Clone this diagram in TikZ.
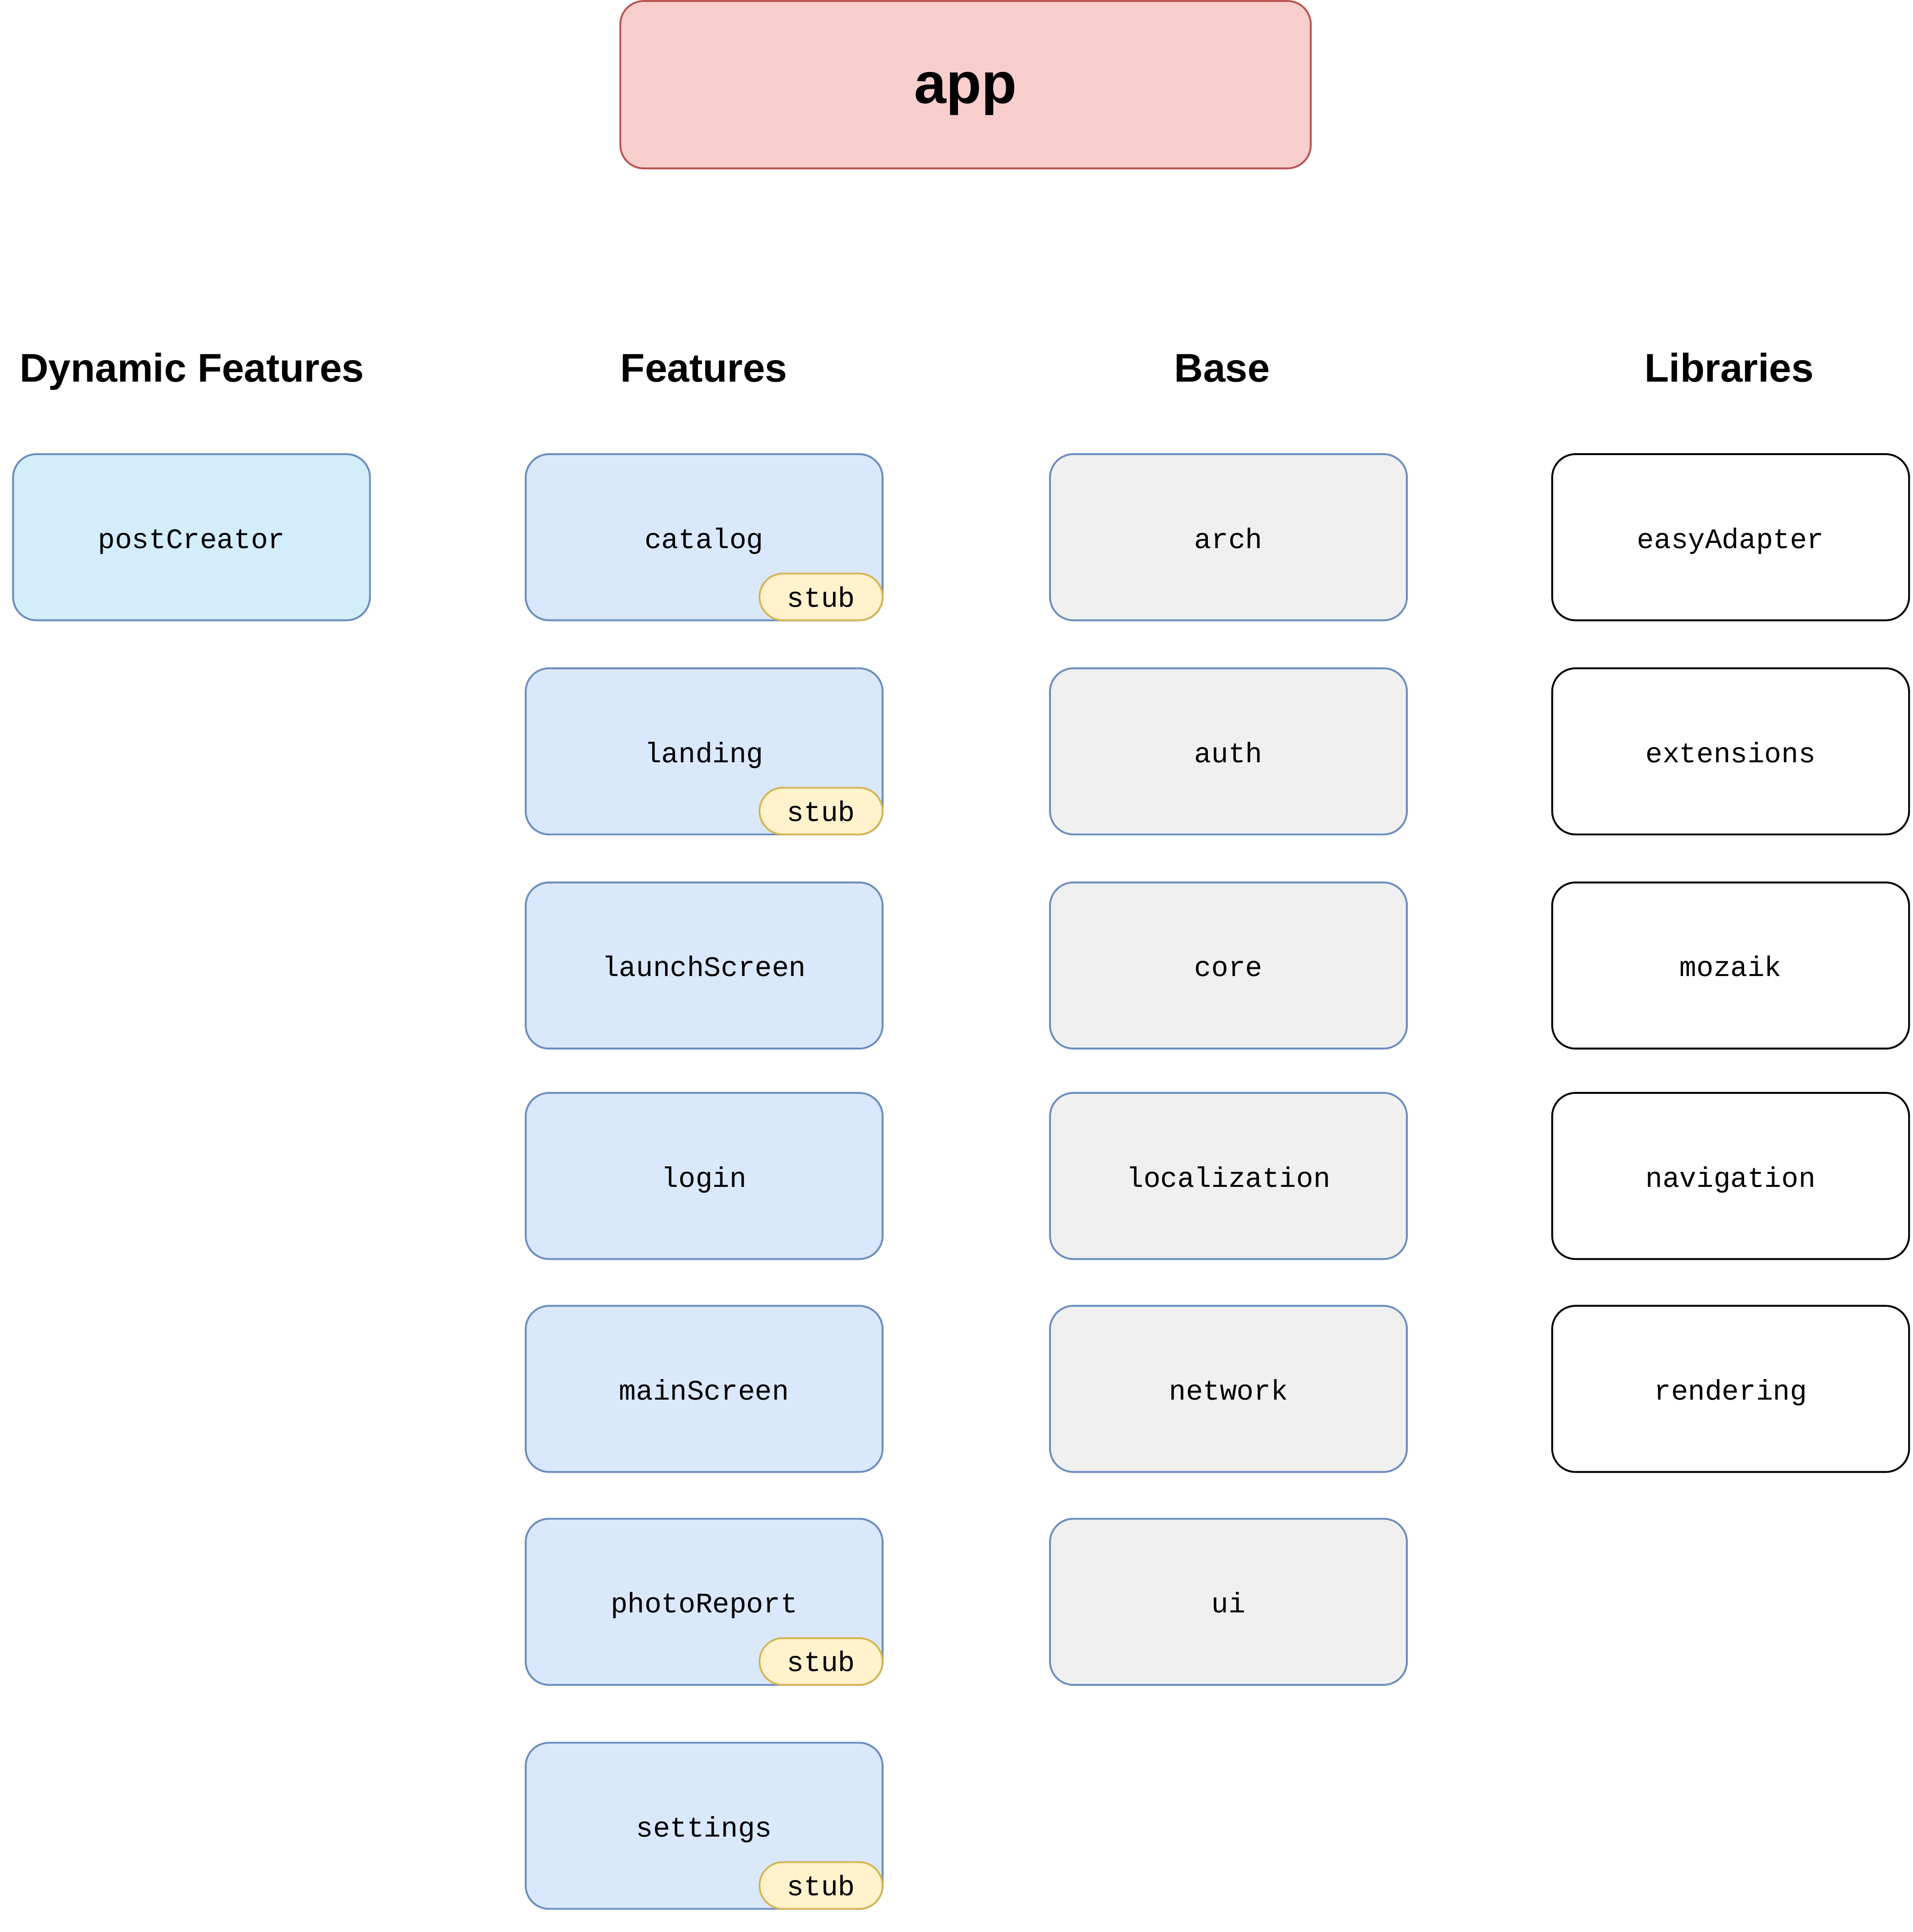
\documentclass[tikz,border=0pt]{standalone}
\usepackage{fontspec}
\setmainfont{Liberation Sans}
\setmonofont{Liberation Mono}
\usepackage{xcolor}
\usetikzlibrary{positioning}

\definecolor{appfill}{HTML}{F8CECC}
\definecolor{appline}{HTML}{B85450}
\definecolor{featfill}{HTML}{DAE8FC}
\definecolor{featline}{HTML}{6C8EBF}
\definecolor{dynfill}{HTML}{D3EDFA}
\definecolor{basefill}{HTML}{F0F0F0}
\definecolor{stubfill}{HTML}{FFF2CC}
\definecolor{stubline}{HTML}{D6B656}

\tikzset{
  module/.style={rectangle, draw, line width=1.5pt, rounded corners=19pt, minimum width=290pt, minimum height=135pt, inner sep=0pt, outer sep=0pt, text height=17.8pt, text depth=0pt, font=\ttfamily\fontsize{23}{23}\selectfont},
  feature/.style={module, draw=featline, fill=featfill},
  dynfeature/.style={module, draw=featline, fill=dynfill},
  basemod/.style={module, draw=featline, fill=basefill},
  library/.style={module, draw=black, fill=white},
  stubtag/.style={rectangle, draw=stubline, fill=stubfill, line width=1.5pt, rounded corners=19pt, minimum width=100pt, minimum height=38pt, inner sep=0pt, outer sep=0pt, anchor=south east, text height=16.2pt, text depth=0pt, font=\ttfamily\fontsize{23}{23}\selectfont},
  header/.style={inner sep=0pt, text height=23.3pt, text depth=0pt, font=\bfseries\fontsize{32.5}{32.5}\selectfont}
}

\begin{document}
\begin{tikzpicture}[x=1pt, y=-1pt, node distance=38pt]
    \useasboundingbox (0,0) rectangle (1554.3,1569.8);

    % App
    \node (app) [rectangle, draw=appline, fill=appfill, line width=1.5pt, rounded corners=19pt, minimum width=561pt, minimum height=136pt, text height=30.4pt, text depth=0pt, font=\bfseries\fontsize{47}{47}\selectfont] at (784.5,68.8) {app};

    % Headers
    \node (dynhead) [header] at (156,298.8) {Dynamic Features};
    \node (feathead) [header] at (572,298.8) {Features};
    \node (basehead) [header] at (993,298.8) {Base};
    \node (libhead) [header] at (1405,298.8) {Libraries};

    % Dynamic features
    \node (postcreator) [dynfeature] at (155.6,436.5) {postCreator};

    % Features
    \node (catalog) [feature] at (572.1,436.5) {catalog};
    \node (landing) [feature, below=39pt of catalog] {landing};
    \node (launchscreen) [feature, below=39pt of landing] {launchScreen};
    \node (login) [feature, below=36pt of launchscreen] {login};
    \node (mainscreen) [feature, below=38pt of login] {mainScreen};
    \node (photoreport) [feature, below=38pt of mainscreen] {photoReport};
    \node (settings) [feature, below=47pt of photoreport] {settings};

    \node (catalogstub) [stubtag] at (catalog.south east) {stub};
    \node (landingstub) [stubtag] at (landing.south east) {stub};
    \node (photoreportstub) [stubtag] at (photoreport.south east) {stub};
    \node (settingsstub) [stubtag] at (settings.south east) {stub};

    % Base
    \node (arch) [basemod, right=136pt of catalog] {arch};
    \node (auth) [basemod, right=136pt of landing] {auth};
    \node (core) [basemod, right=136pt of launchscreen] {core};
    \node (localization) [basemod, right=136pt of login] {localization};
    \node (network) [basemod, right=136pt of mainscreen] {network};
    \node (ui) [basemod, right=136pt of photoreport] {ui};

    % Libraries
    \node (easyadapter) [library, right=118pt of arch] {easyAdapter};
    \node (extensions) [library, right=118pt of auth] {extensions};
    \node (mozaik) [library, right=118pt of core] {mozaik};
    \node (navigation) [library, right=118pt of localization] {navigation};
    \node (rendering) [library, right=118pt of network] {rendering};
\end{tikzpicture}
\end{document}
